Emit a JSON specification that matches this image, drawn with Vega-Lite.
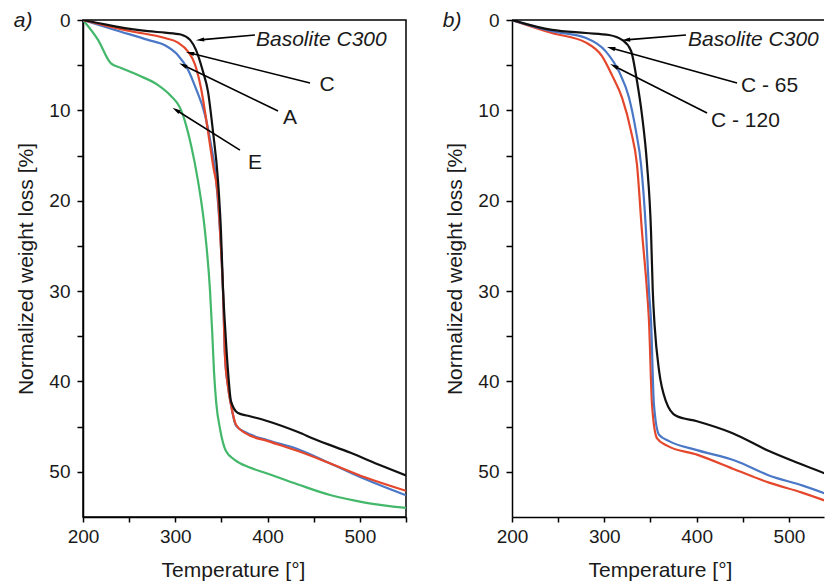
{
  "$schema": "https://vega.github.io/schema/vega-lite/v6.json",
  "padding": {"left": 13, "top": 9, "right": 0, "bottom": 0},
  "background": "white",
  "spacing": 34,
  "config": {
    "font": "Liberation Sans",
    "view": {"stroke": "black", "strokeWidth": 1.5},
    "axis": {
      "grid": false,
      "ticks": true,
      "domainColor": "black",
      "domainWidth": 1.5,
      "tickColor": "black",
      "tickWidth": 1.5,
      "labelFont": "Liberation Sans",
      "labelFontSize": 19,
      "labelColor": "#1a1a1a",
      "titleFont": "Liberation Sans",
      "titleFontSize": 21,
      "titleFontWeight": "normal",
      "titleColor": "#1a1a1a"
    },
    "title": {"font": "Liberation Sans", "fontSize": 21, "fontWeight": "normal", "fontStyle": "italic", "color": "#1a1a1a"}
  },
  "datasets": {
    "a": [
      {"s": "E", "t": 200, "w": 0}, {"s": "E", "t": 216.3, "w": 2.2}, {"s": "E", "t": 230.3, "w": 4.8}, {"s": "E", "t": 241.2, "w": 5.3}, {"s": "E", "t": 259.6, "w": 6.1}, {"s": "E", "t": 281.3, "w": 7.2}, {"s": "E", "t": 295.3, "w": 8.4}, {"s": "E", "t": 305.1, "w": 9.7}, {"s": "E", "t": 311.6, "w": 11.6}, {"s": "E", "t": 317, "w": 13.8}, {"s": "E", "t": 324.6, "w": 17.8}, {"s": "E", "t": 332.2, "w": 23.4}, {"s": "E", "t": 337.6, "w": 29.9}, {"s": "E", "t": 340, "w": 34.5}, {"s": "E", "t": 342, "w": 39}, {"s": "E", "t": 344.5, "w": 42.5}, {"s": "E", "t": 348.4, "w": 45.2}, {"s": "E", "t": 354.9, "w": 47.7}, {"s": "E", "t": 364.7, "w": 48.7}, {"s": "E", "t": 380, "w": 49.5}, {"s": "E", "t": 397.2, "w": 50.1}, {"s": "E", "t": 433, "w": 51.4}, {"s": "E", "t": 468.7, "w": 52.6}, {"s": "E", "t": 505.5, "w": 53.4}, {"s": "E", "t": 550, "w": 54.0},
      {"s": "A", "t": 200, "w": 0}, {"s": "A", "t": 234.7, "w": 1.1}, {"s": "A", "t": 270.4, "w": 2.2}, {"s": "A", "t": 288.8, "w": 2.8}, {"s": "A", "t": 302.9, "w": 3.9}, {"s": "A", "t": 313.8, "w": 5.5}, {"s": "A", "t": 322.4, "w": 7.6}, {"s": "A", "t": 332.2, "w": 10.5}, {"s": "A", "t": 338.7, "w": 13.8}, {"s": "A", "t": 343, "w": 16.5}, {"s": "A", "t": 346.5, "w": 20.5}, {"s": "A", "t": 349.5, "w": 25.2}, {"s": "A", "t": 351.7, "w": 29.9}, {"s": "A", "t": 353.8, "w": 37.1}, {"s": "A", "t": 357, "w": 40.5}, {"s": "A", "t": 360.4, "w": 42.6}, {"s": "A", "t": 365.8, "w": 44.9}, {"s": "A", "t": 375.5, "w": 45.6}, {"s": "A", "t": 400.4, "w": 46.5}, {"s": "A", "t": 433, "w": 47.5}, {"s": "A", "t": 468.7, "w": 49.1}, {"s": "A", "t": 505.5, "w": 50.8}, {"s": "A", "t": 550, "w": 52.6},
      {"s": "C", "t": 200, "w": 0}, {"s": "C", "t": 252, "w": 1.24}, {"s": "C", "t": 288.8, "w": 2.0}, {"s": "C", "t": 302.9, "w": 2.5}, {"s": "C", "t": 313.8, "w": 3.5}, {"s": "C", "t": 321.3, "w": 4.9}, {"s": "C", "t": 328, "w": 7.6}, {"s": "C", "t": 335.4, "w": 12.3}, {"s": "C", "t": 340.8, "w": 16}, {"s": "C", "t": 346.3, "w": 19.7}, {"s": "C", "t": 349.5, "w": 25.2}, {"s": "C", "t": 351.7, "w": 29.9}, {"s": "C", "t": 353.8, "w": 37.1}, {"s": "C", "t": 357, "w": 40.5}, {"s": "C", "t": 360.4, "w": 42.6}, {"s": "C", "t": 365.8, "w": 44.8}, {"s": "C", "t": 375.5, "w": 45.7}, {"s": "C", "t": 400.4, "w": 46.6}, {"s": "C", "t": 433, "w": 47.7}, {"s": "C", "t": 468.7, "w": 49.1}, {"s": "C", "t": 505.5, "w": 50.6}, {"s": "C", "t": 550, "w": 52.1},
      {"s": "Basolite C300", "t": 200, "w": 0}, {"s": "Basolite C300", "t": 234.7, "w": 0.7}, {"s": "Basolite C300", "t": 270.4, "w": 1.24}, {"s": "Basolite C300", "t": 288.8, "w": 1.4}, {"s": "Basolite C300", "t": 306, "w": 1.6}, {"s": "Basolite C300", "t": 316, "w": 2.2}, {"s": "Basolite C300", "t": 322.4, "w": 3.3}, {"s": "Basolite C300", "t": 330, "w": 5.7}, {"s": "Basolite C300", "t": 335.4, "w": 7.9}, {"s": "Basolite C300", "t": 340.8, "w": 12.3}, {"s": "Basolite C300", "t": 346.3, "w": 17.8}, {"s": "Basolite C300", "t": 349.5, "w": 23.4}, {"s": "Basolite C300", "t": 351.7, "w": 29.7}, {"s": "Basolite C300", "t": 354, "w": 34}, {"s": "Basolite C300", "t": 357.1, "w": 38.8}, {"s": "Basolite C300", "t": 360.4, "w": 42.2}, {"s": "Basolite C300", "t": 368, "w": 43.5}, {"s": "Basolite C300", "t": 378.8, "w": 43.8}, {"s": "Basolite C300", "t": 400.4, "w": 44.4}, {"s": "Basolite C300", "t": 433, "w": 45.6}, {"s": "Basolite C300", "t": 451.3, "w": 46.4}, {"s": "Basolite C300", "t": 490, "w": 47.9}, {"s": "Basolite C300", "t": 522.9, "w": 49.3}, {"s": "Basolite C300", "t": 550, "w": 50.4}
    ],
    "b": [
      {"s": "C - 120", "t": 200, "w": 0}, {"s": "C - 120", "t": 243.3, "w": 1.44}, {"s": "C - 120", "t": 280.2, "w": 2.5}, {"s": "C - 120", "t": 297.5, "w": 4.0}, {"s": "C - 120", "t": 308.3, "w": 6.1}, {"s": "C - 120", "t": 319.2, "w": 8.6}, {"s": "C - 120", "t": 328.9, "w": 12.3}, {"s": "C - 120", "t": 335.4, "w": 16}, {"s": "C - 120", "t": 340.8, "w": 23.4}, {"s": "C - 120", "t": 346.3, "w": 30}, {"s": "C - 120", "t": 348.4, "w": 33.3}, {"s": "C - 120", "t": 351.7, "w": 42.6}, {"s": "C - 120", "t": 357.1, "w": 46.3}, {"s": "C - 120", "t": 367.9, "w": 47.1}, {"s": "C - 120", "t": 400.4, "w": 48.1}, {"s": "C - 120", "t": 442.7, "w": 49.8}, {"s": "C - 120", "t": 478.4, "w": 51.2}, {"s": "C - 120", "t": 514.2, "w": 52.3}, {"s": "C - 120", "t": 550, "w": 53.6},
      {"s": "C - 65", "t": 200, "w": 0}, {"s": "C - 65", "t": 243.3, "w": 1.24}, {"s": "C - 65", "t": 280.2, "w": 2.0}, {"s": "C - 65", "t": 301.8, "w": 3.5}, {"s": "C - 65", "t": 315.9, "w": 5.7}, {"s": "C - 65", "t": 326.8, "w": 8.6}, {"s": "C - 65", "t": 334.3, "w": 12.3}, {"s": "C - 65", "t": 339.8, "w": 16}, {"s": "C - 65", "t": 345.2, "w": 23.4}, {"s": "C - 65", "t": 348.4, "w": 30}, {"s": "C - 65", "t": 350.6, "w": 33.3}, {"s": "C - 65", "t": 353.8, "w": 42.6}, {"s": "C - 65", "t": 359.3, "w": 45.9}, {"s": "C - 65", "t": 370.1, "w": 46.6}, {"s": "C - 65", "t": 400.4, "w": 47.6}, {"s": "C - 65", "t": 442.7, "w": 48.8}, {"s": "C - 65", "t": 478.4, "w": 50.4}, {"s": "C - 65", "t": 514.2, "w": 51.5}, {"s": "C - 65", "t": 550, "w": 52.8},
      {"s": "Basolite C300", "t": 200, "w": 0}, {"s": "Basolite C300", "t": 243.3, "w": 1.1}, {"s": "Basolite C300", "t": 280.2, "w": 1.44}, {"s": "Basolite C300", "t": 305.1, "w": 1.66}, {"s": "Basolite C300", "t": 319.2, "w": 2.2}, {"s": "Basolite C300", "t": 328.9, "w": 3.4}, {"s": "Basolite C300", "t": 335.4, "w": 6.75}, {"s": "Basolite C300", "t": 340.8, "w": 10.5}, {"s": "Basolite C300", "t": 346.3, "w": 16}, {"s": "Basolite C300", "t": 350.6, "w": 23.4}, {"s": "Basolite C300", "t": 352.5, "w": 30}, {"s": "Basolite C300", "t": 354.5, "w": 33.8}, {"s": "Basolite C300", "t": 359.3, "w": 38.8}, {"s": "Basolite C300", "t": 366.8, "w": 42.2}, {"s": "Basolite C300", "t": 377.7, "w": 43.8}, {"s": "Basolite C300", "t": 400.4, "w": 44.4}, {"s": "Basolite C300", "t": 438.4, "w": 45.7}, {"s": "Basolite C300", "t": 478.4, "w": 47.7}, {"s": "Basolite C300", "t": 514.2, "w": 49.2}, {"s": "Basolite C300", "t": 550, "w": 50.6}
    ],
    "arr_a": [
      {"x1": 386.3, "y1": 1.66, "x2": 326.8, "y2": 2.2},
      {"x1": 446, "y1": 6.97, "x2": 315.9, "y2": 3.65},
      {"x1": 411.3, "y1": 10.07, "x2": 308.3, "y2": 4.98},
      {"x1": 370.1, "y1": 14.4, "x2": 300.8, "y2": 9.96}
    ],
    "arr_b": [
      {"x1": 388.5, "y1": 1.66, "x2": 323.5, "y2": 2.2},
      {"x1": 443.8, "y1": 6.97, "x2": 307.3, "y2": 3.1},
      {"x1": 411.3, "y1": 10.3, "x2": 310.5, "y2": 5.09}
    ],
    "lab_a": [
      {"label": "C", "x": 464.4, "y": 7.2},
      {"label": "A", "x": 424.3, "y": 10.85},
      {"label": "E", "x": 386.3, "y": 15.8}
    ],
    "lab_a_it": [
      {"label": "Basolite C300", "x": 387.4, "y": 2.2}
    ],
    "lab_b": [
      {"label": "C - 65", "x": 448.1, "y": 7.3},
      {"label": "C - 120", "x": 415.6, "y": 11.2}
    ],
    "lab_b_it": [
      {"label": "Basolite C300", "x": 390.7, "y": 2.2}
    ]
  },
  "resolve": {"scale": {"color": "shared"}},
  "hconcat": [
    {
      "width": 323,
      "height": 497,
      "title": {"text": "a)", "anchor": "start", "frame": "bounds", "dy": 24, "dx": -2},
      "layer": [
        {
          "data": {"name": "a"},
          "mark": {"type": "line", "interpolate": "monotone", "strokeWidth": 2.2, "clip": true},
          "encoding": {
            "x": {"field": "t", "type": "quantitative", "scale": {"domain": [200, 550], "nice": false, "zero": false},
              "axis": {"values": [200, 250, 300, 350, 400, 450, 500, 550], "labelExpr": "datum.value % 100 === 0 ? datum.label : ''", "ticks": true, "tickSize": 5, "labelPadding": 5, "title": "Temperature [°]", "titlePadding": 13, "titleX": 150, "titleAlign": "center", "labelFlush": false}},
            "y": {"field": "w", "type": "quantitative", "scale": {"domain": [0, 55], "reverse": true, "nice": false, "zero": false},
              "axis": {"values": [0, 5, 10, 15, 20, 25, 30, 35, 40, 45, 50], "labelExpr": "datum.value % 10 === 0 ? datum.label : ''", "ticks": true, "tickSize": 6, "labelPadding": 7, "title": "Normalized weight loss [%]", "titlePadding": 12, "labelFlush": false}},
            "color": {"field": "s", "type": "nominal", "legend": null,
              "scale": {"domain": ["Basolite C300", "C", "A", "E", "C - 65", "C - 120"], "range": ["#111111", "#e4472b", "#4b78c6", "#43b86a", "#4b78c6", "#e4472b"]}}
          }
        },
        {
          "data": {"name": "arr_a"},
          "mark": {"type": "rule", "color": "black", "strokeWidth": 1.6},
          "encoding": {
            "x": {"field": "x1", "type": "quantitative"},
            "y": {"field": "y1", "type": "quantitative"},
            "x2": {"field": "x2"},
            "y2": {"field": "y2"}
          }
        },
        {
          "data": {"name": "arr_a"},
          "transform": [{"calculate": "atan2((datum.x2 - datum.x1) * 0.923, -(datum.y2 - datum.y1) * 9.036) * 180 / PI", "as": "ang"}],
          "mark": {"type": "point", "shape": "M0,-1L0.5,1L-0.5,1Z", "filled": true, "color": "black", "opacity": 1, "size": 70},
          "encoding": {
            "x": {"field": "x2", "type": "quantitative"},
            "y": {"field": "y2", "type": "quantitative"},
            "angle": {"field": "ang", "type": "quantitative", "scale": null}
          }
        },
        {
          "data": {"name": "lab_a"},
          "mark": {"type": "text", "fontSize": 21, "align": "center", "baseline": "middle", "color": "#1a1a1a"},
          "encoding": {
            "x": {"field": "x", "type": "quantitative"},
            "y": {"field": "y", "type": "quantitative"},
            "text": {"field": "label"}
          }
        },
        {
          "data": {"name": "lab_a_it"},
          "mark": {"type": "text", "fontSize": 21, "fontStyle": "italic", "align": "left", "baseline": "middle", "color": "#1a1a1a"},
          "encoding": {
            "x": {"field": "x", "type": "quantitative"},
            "y": {"field": "y", "type": "quantitative"},
            "text": {"field": "label"}
          }
        }
      ]
    },
    {
      "width": 312,
      "height": 497,
      "view": {"stroke": null},
      "title": {"text": "b)", "anchor": "start", "frame": "bounds", "dy": 24, "dx": -2},
      "layer": [
        {
          "data": {"name": "b"},
          "mark": {"type": "line", "interpolate": "monotone", "strokeWidth": 2.2, "clip": true},
          "encoding": {
            "x": {"field": "t", "type": "quantitative", "scale": {"domain": [200, 538], "nice": false, "zero": false},
              "axis": {"values": [200, 250, 300, 350, 400, 450, 500], "labelExpr": "datum.value % 100 === 0 ? datum.label : ''", "ticks": true, "tickSize": 5, "labelPadding": 5, "title": "Temperature [°]", "titlePadding": 13, "titleX": 148, "titleAlign": "center", "labelFlush": false}},
            "y": {"field": "w", "type": "quantitative", "scale": {"domain": [0, 55], "reverse": true, "nice": false, "zero": false},
              "axis": {"values": [0, 5, 10, 15, 20, 25, 30, 35, 40, 45, 50], "labelExpr": "datum.value % 10 === 0 ? datum.label : ''", "ticks": true, "tickSize": 6, "labelPadding": 7, "title": "Normalized weight loss [%]", "titlePadding": 12, "labelFlush": false}},
            "color": {"field": "s", "type": "nominal", "legend": null,
              "scale": {"domain": ["Basolite C300", "C", "A", "E", "C - 65", "C - 120"], "range": ["#111111", "#e4472b", "#4b78c6", "#43b86a", "#4b78c6", "#e4472b"]}}
          }
        },
        {
          "data": {"values": [{}]},
          "mark": {"type": "rule", "color": "black", "strokeWidth": 1.5},
          "encoding": {"y": {"datum": 0}}
        },
        {
          "data": {"name": "arr_b"},
          "mark": {"type": "rule", "color": "black", "strokeWidth": 1.6},
          "encoding": {
            "x": {"field": "x1", "type": "quantitative"},
            "y": {"field": "y1", "type": "quantitative"},
            "x2": {"field": "x2"},
            "y2": {"field": "y2"}
          }
        },
        {
          "data": {"name": "arr_b"},
          "transform": [{"calculate": "atan2((datum.x2 - datum.x1) * 0.923, -(datum.y2 - datum.y1) * 9.036) * 180 / PI", "as": "ang"}],
          "mark": {"type": "point", "shape": "M0,-1L0.5,1L-0.5,1Z", "filled": true, "color": "black", "opacity": 1, "size": 70},
          "encoding": {
            "x": {"field": "x2", "type": "quantitative"},
            "y": {"field": "y2", "type": "quantitative"},
            "angle": {"field": "ang", "type": "quantitative", "scale": null}
          }
        },
        {
          "data": {"name": "lab_b"},
          "mark": {"type": "text", "fontSize": 21, "align": "left", "baseline": "middle", "color": "#1a1a1a"},
          "encoding": {
            "x": {"field": "x", "type": "quantitative"},
            "y": {"field": "y", "type": "quantitative"},
            "text": {"field": "label"}
          }
        },
        {
          "data": {"name": "lab_b_it"},
          "mark": {"type": "text", "fontSize": 21, "fontStyle": "italic", "align": "left", "baseline": "middle", "color": "#1a1a1a", "clip": true},
          "encoding": {
            "x": {"field": "x", "type": "quantitative"},
            "y": {"field": "y", "type": "quantitative"},
            "text": {"field": "label"}
          }
        }
      ]
    }
  ]
}
